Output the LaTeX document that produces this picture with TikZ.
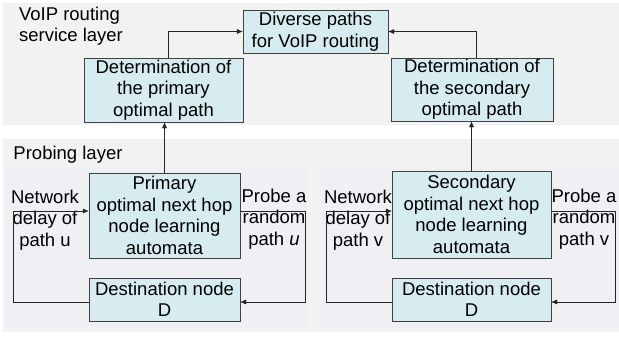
\documentclass[tikz,border=0pt]{standalone}
\usepackage{fontspec}
\setmainfont{Liberation Sans}
\usepackage{xcolor}
\definecolor{Back1}{RGB}{242,242,242}
\definecolor{Back2}{RGB}{240,239,244}
\definecolor{BoxFill}{RGB}{214,236,241}
\definecolor{BoxLine}{RGB}{64,64,64}
\usetikzlibrary{arrows.meta}
\tikzstyle{Box}=[rectangle,draw=BoxLine,fill=BoxFill,inner sep=0pt,
align=center,font=\fontsize{18.5}{21.5}\selectfont]
\tikzstyle{Label}=[inner sep=0pt,align=center,
font=\fontsize{18.5}{21.5}\selectfont]
\tikzstyle{Arrow}=[draw=black!85,-{Latex[length=6pt,width=5pt]}]

\begin{document}
\begin{tikzpicture}[x=1pt,y=-1pt]
    \useasboundingbox (0,0) rectangle (619,337);
    % layer backgrounds
    \fill[Back1] (3,3) rectangle (619,125);
    \fill[Back1] (3,139) rectangle (619,332);
    \fill[Back2] (4,167) rectangle (307,328);
    \fill[Back2] (321,167) rectangle (619,328);
    % boxes
    \node[Box,minimum width=145pt,minimum height=43pt](div)at(315.5,31.5)
        {Diverse paths\\for VoIP routing};
    \node[Box,minimum width=159pt,minimum height=64pt](detp)at(163.5,90)
        {Determination of\\the primary\\optimal path};
    \node[Box,minimum width=162pt,minimum height=63pt](dets)at(472,89.5)
        {Determination of\\the secondary\\optimal path};
    \node[Box,minimum width=151pt,minimum height=85pt](lap)at(164.5,215.5)
        {Primary\\optimal next hop\\node learning\\automata};
    \node[Box,minimum width=159pt,minimum height=87pt](las)at(471.5,214.5)
        {Secondary\\optimal next hop\\node learning\\automata};
    \node[Box,minimum width=151pt,minimum height=43pt](dstp)at(164.5,299.5)
        {Destination node\\D};
    \node[Box,minimum width=159pt,minimum height=43pt](dsts)at(471.5,299.5)
        {Destination node\\D};
    % texts
    \node[Label,align=left](svc)at(71,26){VoIP routing\\service layer};
    \node[Label](prb)at(68,155){Probing layer};
    \node[Label](netu)at(45,220){Network\\delay of\\path u};
    \node[Label](prou)at(274,219){Probe a\\random\\path \textit{u}};
    \node[Label](netv)at(358,220){Network\\delay of\\path v};
    \node[Label](prov)at(584,219){Probe a\\random\\path v};
    % edges
    \draw[Arrow]([xshift=4.5pt]detp.north)|-(div.west);
    \draw[Arrow]([xshift=4pt]dets.north)|-(div.east);
    \draw[Arrow](lap.north)--(lap.north|-detp.south);
    \draw[Arrow](las.north)--(las.north|-dets.south);
    \draw[Arrow]([yshift=-2.5pt]dstp.west)--++(-76,0)|-([yshift=4.5pt]lap.west);
    \draw[Arrow]([yshift=4.5pt]lap.east)--++(65,0)|-([yshift=-2.5pt]dstp.east);
    \draw[Arrow]([yshift=-2.5pt]dsts.west)--++(-66,0)|-([yshift=3.5pt]las.west);
    \draw[Arrow]([yshift=3.5pt]las.east)--++(64,0)|-([yshift=-2.5pt]dsts.east);
\end{tikzpicture}
\end{document}
